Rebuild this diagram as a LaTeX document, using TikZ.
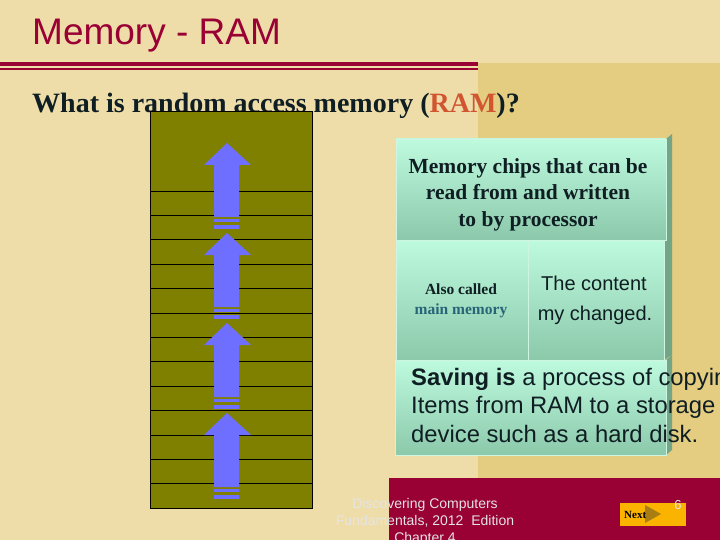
\documentclass[tikz,border=0pt]{standalone}
\usepackage{fontspec}
\setmainfont{Liberation Serif}
\setsansfont{Liberation Sans}
\definecolor{bgc}{RGB}{239,221,169}
\definecolor{panelc}{RGB}{228,205,128}
\definecolor{crim}{RGB}{153,0,51}
\definecolor{ramc}{RGB}{210,85,50}
\definecolor{olivec}{RGB}{128,128,0}
\definecolor{arrowc}{RGB}{110,110,255}
\definecolor{mintT}{RGB}{190,250,222}
\definecolor{mintB}{RGB}{140,200,170}
\definecolor{sidec}{RGB}{115,165,135}
\definecolor{edgec}{RGB}{205,245,225}
\definecolor{txtc}{RGB}{15,30,35}
\definecolor{tealc}{RGB}{40,100,120}
\definecolor{footc}{RGB}{228,228,228}
\definecolor{nextc}{RGB}{250,180,0}
\definecolor{tric}{RGB}{160,120,20}
\begin{document}
\begin{tikzpicture}[x=1pt,y=-1pt,
  greenbox/.style={draw=edgec, line width=0.8pt, top color=mintT, bottom color=mintB},
  sideface/.style={fill=sidec},
  bluearrow/.style={fill=arrowc},
  txt/.style={inner sep=0pt, text=txtc},
  chipsf/.style={txt, anchor=base, font=\bfseries\fontsize{21.5}{26}\selectfont},
  alsof/.style={txt, anchor=base, font=\bfseries\fontsize{15.5}{20}\selectfont},
  contf/.style={txt, anchor=base, font=\sffamily\fontsize{20}{24}\selectfont},
  savef/.style={txt, anchor=base west, font=\sffamily\fontsize{23.8}{28}\selectfont},
  footf/.style={inner sep=0pt, text=footc, anchor=base, font=\sffamily\fontsize{14}{17}\selectfont}]
\useasboundingbox (0,0) rectangle (720,540);
\begin{scope}
\clip (0,0) rectangle (720,540);
\fill[bgc] (0,0) rectangle (720,540);
\fill[panelc] (478,63) rectangle (720,478);
\fill[crim] (0,62) rectangle (478,66);
\fill[crim] (0,68) rectangle (478,70);
\node[anchor=base west, inner sep=0pt, text=crim, font=\sffamily\fontsize{37}{40}\selectfont] (title) at (32,45) {Memory - RAM};
\node[anchor=base west, txt, font=\bfseries\fontsize{28}{30}\selectfont] (question) at (32,113) {What is random access memory ({\color{ramc}RAM})?};
% memory stack
\draw[fill=olivec, line width=0.8pt] (150,111) rectangle (312,508);
\foreach \k in {0,...,12} {
  \draw[line width=0.8pt] (150,{191+\k*24.4}) -- (312,{191+\k*24.4});
}
% blue arrows
\foreach \t in {143,233,323,413} {
  \fill[bluearrow] (204,\t+22) -- (227,\t) -- (251,\t+22) -- (239,\t+22) -- (239,\t+74) -- (214,\t+74) -- (214,\t+22) -- cycle;
  \fill[bluearrow] (214,\t+76) rectangle (239,\t+79);
  \fill[bluearrow] (214,\t+82) rectangle (239,\t+86);
}
% green boxes
\fill[sideface] (666,139) -- (672,134) -- (672,235) -- (666,240) -- cycle;
\fill[sideface] (664,240) -- (672,235) -- (672,355) -- (664,360) -- cycle;
\fill[sideface] (666,360) -- (672,355) -- (672,450) -- (666,455) -- cycle;
\shade[greenbox] (396,139) rectangle (666,240);
\shade[greenbox] (396,240) rectangle (528,360);
\shade[greenbox] (528,240) rectangle (664,360);
\shade[greenbox] (395,360) rectangle (666,455);
\node[chipsf] (chips1) at (528,174) {Memory chips that can be};
\node[chipsf] (chips2) at (528,200) {read from and written};
\node[chipsf] (chips3) at (528,226) {to by processor};
\node[alsof] (also1) at (461,294) {Also called};
\node[alsof, text=tealc] (also2) at (461,314) {main memory};
\node[contf] (cont1) at (594,290) {The content};
\node[contf] (cont2) at (595,320) {my changed.};
\node[savef] (save1) at (411,385) {\textbf{Saving is} a process of copying};
\node[savef] (save2) at (411,413.5) {Items from RAM to a storage};
\node[savef] (save3) at (411,442) {device such as a hard disk.};
% footer
\fill[crim] (389,478) rectangle (720,540);
\node[footf] (foot1) at (425,508) {Discovering Computers};
\node[footf] (foot2) at (425,525) {Fundamentals, 2012\ \ Edition};
\node[footf] (foot3) at (425,542) {Chapter 4};
\node[fill=nextc, minimum width=66pt, minimum height=23pt, inner sep=0pt] (next) at (653,514.5) {};
\fill[tric, opacity=0.9] (645,505) -- (661,514) -- (645,523) -- cycle;
\node[inner sep=0pt, anchor=base west, font=\bfseries\fontsize{11}{12}\selectfont] (nexttxt) at (624,518) {Next};
\node[inner sep=0pt, anchor=base, text=footc, font=\sffamily\fontsize{13}{14}\selectfont] (page) at (678,509) {6};
\end{scope}
\end{tikzpicture}
\end{document}
